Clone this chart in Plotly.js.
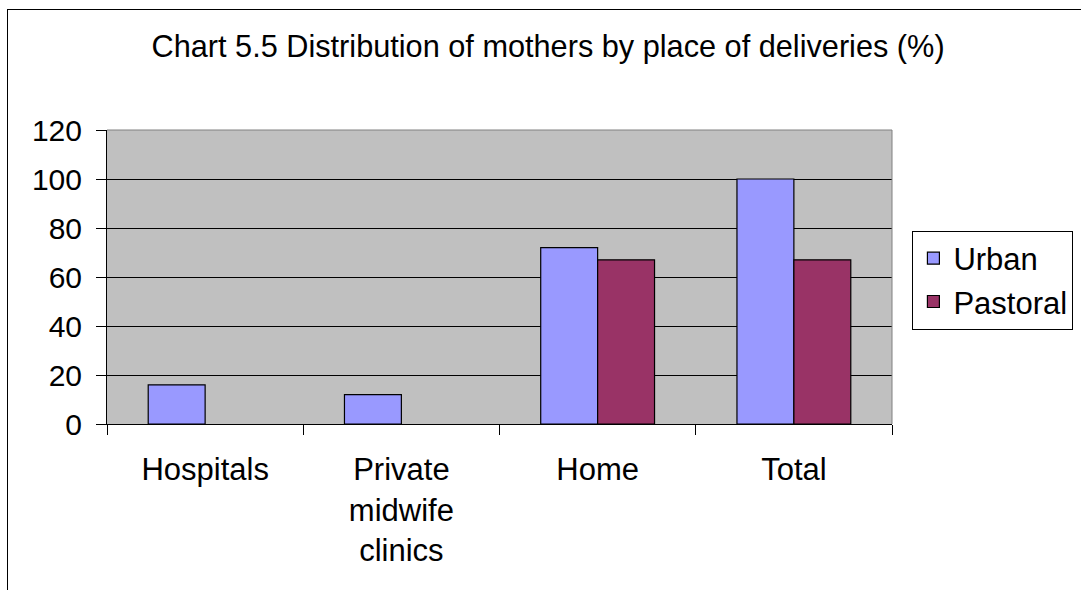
<!DOCTYPE html>
<html>
<head>
<meta charset="utf-8">
<script src="https://cdn.plot.ly/plotly-3.0.1.min.js"></script>
<style>
  html, body { margin:0; padding:0; width:1081px; height:590px; overflow:hidden; background:#ffffff; }
  #frame { position:absolute; left:7px; top:9px; width:1200px; height:700px; border:1px solid #000; box-sizing:border-box; }
  #chart { position:absolute; left:0; top:0; width:1081px; height:590px; }
</style>
</head>
<body>
<div id="frame"></div>
<div id="chart"></div>
<script>
const categories = ["Hospitals", "Private<br>midwife<br>clinics", "Home", "Total"];
const urban = [16, 12, 72, 100];
const pastoral = [null, null, 67, 67];
const seriesNames = ["Urban", "Pastoral"];
const yTicks = [0, 20, 40, 60, 80, 100, 120];

const FONT = "'Liberation Sans', Arial, Helvetica, sans-serif";

const traces = [
  { type: "bar", name: seriesNames[0], x: categories, y: urban,
    marker: { color: "#9999FF", line: { color: "#000000", width: 1.2 } }, hoverinfo: "y" },
  { type: "bar", name: seriesNames[1], x: categories, y: pastoral,
    marker: { color: "#993366", line: { color: "#000000", width: 1.2 } }, hoverinfo: "y" }
];

const layout = {
  width: 1081, height: 590,
  margin: { l: 107, r: 189, t: 130, b: 166, pad: 0, autoexpand: false },
  paper_bgcolor: "rgba(0,0,0,0)",
  plot_bgcolor: "#C0C0C0",
  font: { family: FONT, size: 31, color: "#000000" },
  title: { text: "Chart 5.5 Distribution of mothers by place of deliveries (%)",
           font: { family: FONT, size: 30.7, color: "#000000" },
           x: 0.507, xref: "container", xanchor: "center",
           y: 0.922, yref: "container", yanchor: "middle" },
  barmode: "group",
  bargap: 0.42,
  bargroupgap: 0,
  xaxis: {
    type: "category",
    tickson: "boundaries",
    ticks: "outside", ticklen: 10, tickcolor: "#000000", tickwidth: 1,
    showline: true, linecolor: "#000000", linewidth: 1,
    showgrid: false, zeroline: false,
    tickfont: { family: FONT, size: 31, color: "#000000" },
    ticklabelstandoff: 18,
    automargin: false,
    fixedrange: true
  },
  yaxis: {
    range: [0, 120],
    tickvals: yTicks,
    ticktext: yTicks.map(String),
    ticks: "outside", ticklen: 10, tickcolor: "#000000", tickwidth: 1,
    showline: true, linecolor: "#000000", linewidth: 1,
    showgrid: true, gridcolor: "#000000", gridwidth: 1,
    zeroline: false,
    tickfont: { family: FONT, size: 30, color: "#000000" },
    ticklabelstandoff: 8,
    automargin: false,
    fixedrange: true
  },
  showlegend: true,
  legend: {
    x: 1.026, xanchor: "left", y: 0.658, yanchor: "top",
    bgcolor: "#ffffff", bordercolor: "#000000", borderwidth: 1,
    font: { family: FONT, size: 31, color: "#000000" },
    itemwidth: 30,
    entrywidth: 205,
    tracegroupgap: 0
  },
  shapes: [
    { type: "line", xref: "paper", yref: "paper", x0: 0, x1: 1, y0: 1, y1: 1, line: { color: "#808080", width: 1 } },
    { type: "line", xref: "paper", yref: "paper", x0: 1, x1: 1, y0: 0, y1: 1, line: { color: "#808080", width: 1 } }
  ]
};

Plotly.newPlot("chart", traces, layout, { displayModeBar: false, staticPlot: true });
</script>
</body>
</html>
